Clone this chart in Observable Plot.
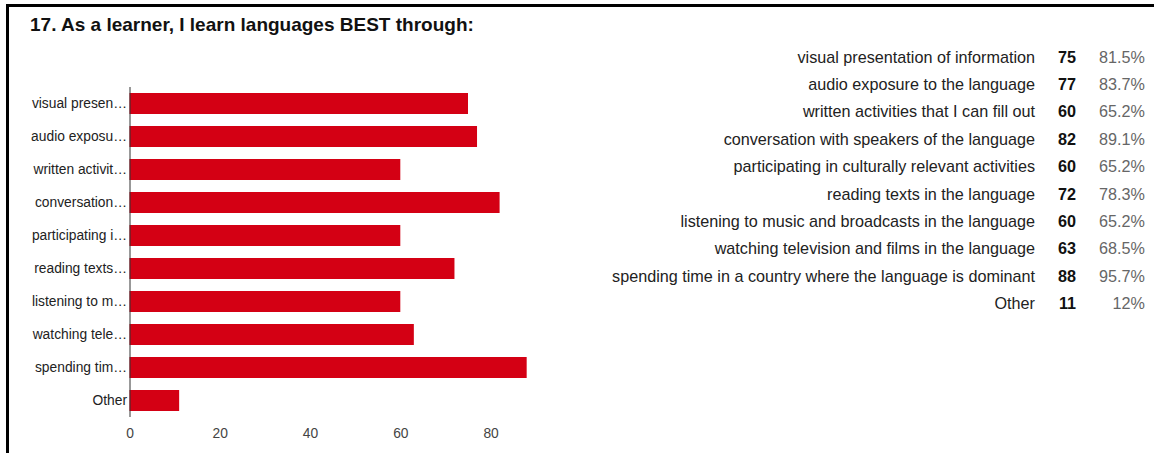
<!DOCTYPE html>
<html>
<head>
<meta charset="utf-8">
<script src="https://cdn.jsdelivr.net/npm/d3@7"></script>
<script src="https://cdn.jsdelivr.net/npm/@observablehq/plot@0.6"></script>
<style>
  html, body { margin: 0; padding: 0; background: #fff; overflow: hidden; }
  #page { position: relative; width: 1154px; height: 453px; overflow: hidden; font-family: "Liberation Sans", Arial, sans-serif; }
  #frame { position: absolute; left: 6px; top: 4px; width: 1300px; height: 600px; border-top: 3px solid #000; border-left: 3px solid #000; }
  #title { position: absolute; left: 30px; top: 14.5px; font-size: 19px; line-height: 19px; font-weight: bold; color: #111; white-space: nowrap; }
  #chart { position: absolute; left: 0; top: 0; }
  #table { position: absolute; left: 595px; top: 43.5px; border-collapse: collapse; font-size: 16.2px; }
  #table td { padding: 0; height: 27.4px; line-height: 27.4px; white-space: nowrap; text-align: right; }
  #table td.lab { width: 440px; color: #222; }
  #table td.cnt { width: 41px; font-weight: bold; color: #111; }
  #table td.pct { width: 69px; color: #666; }
</style>
</head>
<body>
<div id="page">
  <div id="frame"></div>
  <div id="title"></div>
  <div id="chart"></div>
  <table id="table"></table>
</div>
<script>
const titleText = "17. As a learner, I learn languages BEST through:";
const categories = [
  "visual presentation of information",
  "audio exposure to the language",
  "written activities that I can fill out",
  "conversation with speakers of the language",
  "participating in culturally relevant activities",
  "reading texts in the language",
  "listening to music and broadcasts in the language",
  "watching television and films in the language",
  "spending time in a country where the language is dominant",
  "Other"
];
const shortLabels = [
  "visual presen\u2026",
  "audio exposu\u2026",
  "written activit\u2026",
  "conversation\u2026",
  "participating i\u2026",
  "reading texts\u2026",
  "listening to m\u2026",
  "watching tele\u2026",
  "spending tim\u2026",
  "Other"
];
const counts = [75, 77, 60, 82, 60, 72, 60, 63, 88, 11];
const percents = ["81.5%", "83.7%", "65.2%", "89.1%", "65.2%", "78.3%", "65.2%", "68.5%", "95.7%", "12%"];
const xTicks = [0, 20, 40, 60, 80];

document.getElementById("title").textContent = titleText;

const data = categories.map((c, i) => ({category: c, count: counts[i]}));

const chart = Plot.plot({
  width: 560,
  height: 453,
  marginLeft: 129.5,
  marginRight: 24.3,
  marginTop: 87,
  marginBottom: 36,
  style: {fontFamily: "'Liberation Sans', Arial, sans-serif", fontSize: "13.8px", color: "#222", background: "transparent"},
  x: {domain: [0, 90], label: null},
  y: {domain: categories, paddingInner: 0.37, paddingOuter: 0.185, label: null},
  marks: [
    Plot.barX(data, {x: "count", y: "category", fill: "#d40014"}),
    Plot.ruleX([0], {stroke: "#333", strokeWidth: 1}),
    Plot.axisY({tickSize: 0, tickPadding: 3, label: null, fill: "#222", tickFormat: d => shortLabels[categories.indexOf(d)]}),
    Plot.axisX({ticks: xTicks, tickSize: 0, tickPadding: 10.5, label: null, fill: "#444"})
  ]
});
document.getElementById("chart").appendChild(chart);

const table = document.getElementById("table");
categories.forEach((c, i) => {
  const tr = document.createElement("tr");
  const a = document.createElement("td"); a.className = "lab"; a.textContent = c;
  const b = document.createElement("td"); b.className = "cnt"; b.textContent = counts[i];
  const p = document.createElement("td"); p.className = "pct"; p.textContent = percents[i];
  tr.append(a, b, p);
  table.appendChild(tr);
});
</script>
</body>
</html>
